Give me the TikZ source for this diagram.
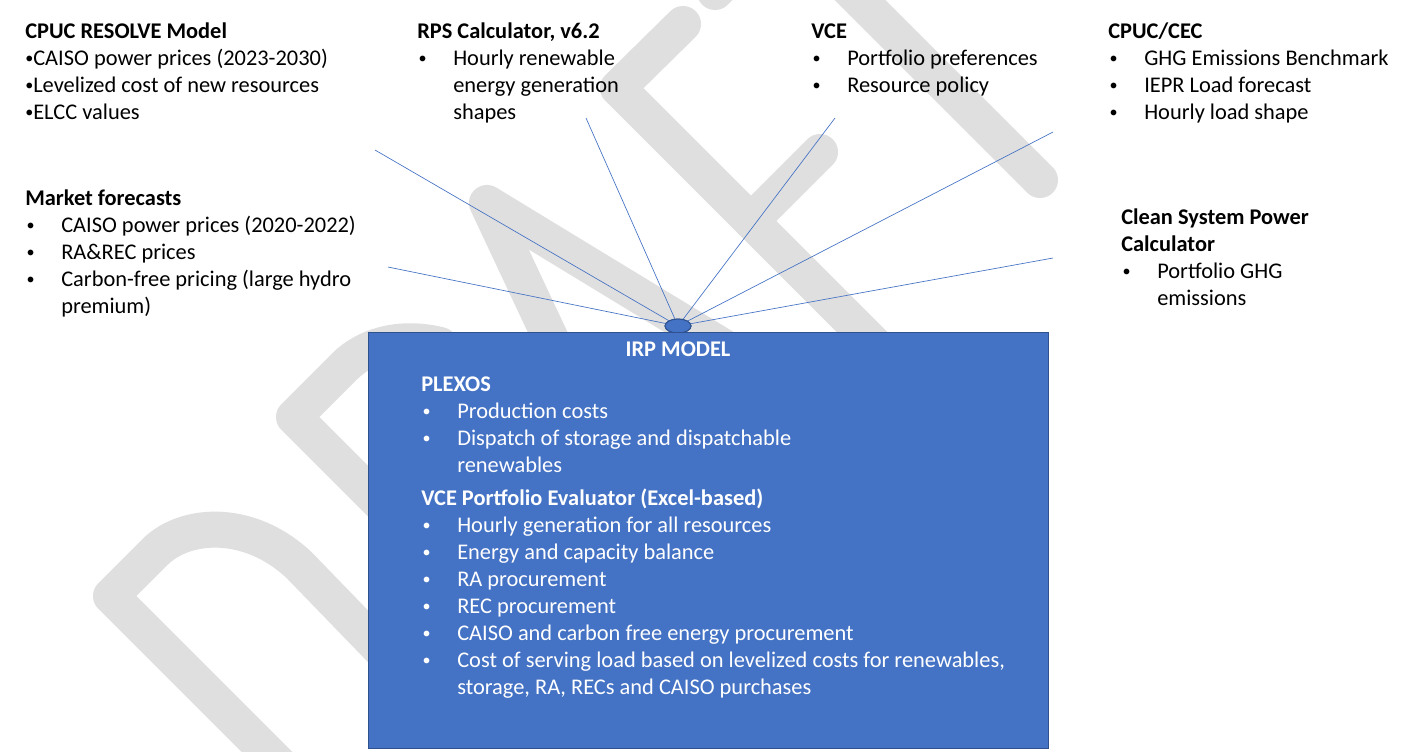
\documentclass[tikz,border=0pt]{standalone}
\usepackage{fontspec}
\setmainfont{Carlito}
\usetikzlibrary{shapes.geometric}
\definecolor{boxblue}{HTML}{4472C4}
\definecolor{boxedge}{HTML}{2F528F}
\definecolor{wm}{RGB}{223,223,223}
\newcommand{\irpfont}{\fontsize{16.8pt}{20.25pt}\selectfont}
\newcommand{\irpdot}{\raisebox{1.2pt}{\scalebox{0.72}{•}}}
\newcommand{\irpbul}{\makebox[27pt][l]{\hspace{1pt}\irpdot}}
\newcommand{\irpind}{\makebox[27pt]{}}
\newcommand{\irpstrut}{\rule{0pt}{15pt}}
\begin{document}
\begin{tikzpicture}[x=0.75pt,y=-0.75pt,
  wmstroke/.style={draw=wm, line width=27pt, line cap=round, line join=round},
  conn/.style={draw=boxblue, line width=0.5pt},
  txt/.style={anchor=north west, inner sep=0pt, align=left, font=\irpfont, text=black},
  intxt/.style={txt, text=white},
  hubst/.style={ellipse, draw=boxedge, fill=boxblue, line width=0.75pt, inner sep=0pt, minimum width=19.5pt, minimum height=10.5pt},
  boxst/.style={rectangle, draw=boxedge, fill=boxblue, line width=0.75pt, inner sep=0pt, anchor=north west}]
\useasboundingbox (0,0) rectangle (1405,751);
\clip (0,0) rectangle (1405,751);
\fill[white] (0,0) rectangle (1405,751);
% watermark
\draw[wmstroke] (310,795) -- (111,596) -- (155,552) .. controls (185,522) and (250,518) .. (300,566) -- (420,690);
\draw[wmstroke] (430,553) -- (294,417) -- (345,366) .. controls (365,346) and (400,335) .. (440,345);
\draw[wmstroke] (595,433) -- (487,203) -- (865,433);
\draw[wmstroke] (683,24) -- (618,88) -- (980,450);
\draw[wmstroke] (751,221) -- (820,152);
\draw[wmstroke] (800,-60) -- (1040,180);
\draw[wmstroke] (715,-8) -- (900,-193);
% hub and connectors
\node[hubst] (hub) at (678,326) {};
\coordinate (e1) at (375,150);
\coordinate (e2) at (586,118);
\coordinate (e3) at (835,118);
\coordinate (e4) at (1053,132);
\coordinate (e5) at (388,267);
\coordinate (e6) at (1053,258);
\foreach \e in {e1,e2,e3,e4,e5,e6} \draw[conn] (\e) -- (hub);
\node[hubst] (hubtop) at (678,326) {};
% main box
\node[boxst, minimum width=510pt, minimum height=312pt] (irp) at (368,332) {};
\node[font=\irpfont\bfseries, text=white, anchor=base, inner sep=0pt] (irptitle) at (678,356) {IRP MODEL};
\node[intxt] (irpbody) at (421,371) {\irpstrut\textbf{PLEXOS}\\
\irpbul Production costs\\
\irpbul Dispatch of storage and dispatchable\\
\irpind renewables\\[4.5pt]
\textbf{VCE Portfolio Evaluator (Excel-based)}\\
\irpbul Hourly generation for all resources\\
\irpbul Energy and capacity balance\\
\irpbul RA procurement\\
\irpbul REC procurement\\
\irpbul CAISO and carbon free energy procurement\\
\irpbul Cost of serving load based on levelized costs for renewables,\\
\irpind storage, RA, RECs and CAISO purchases};
% input groups
\node[txt] (resolve) at (25,18) {\irpstrut\textbf{CPUC RESOLVE Model}\\
\irpdot CAISO power prices (2023-2030)\\
\irpdot Levelized cost of new resources\\
\irpdot ELCC values};
\node[txt] (rps) at (417,18) {\irpstrut\textbf{RPS Calculator, v6.2}\\
\irpbul Hourly renewable\\
\irpind energy generation\\
\irpind shapes};
\node[txt] (vce) at (811,18) {\irpstrut\textbf{VCE}\\
\irpbul Portfolio preferences\\
\irpbul Resource policy};
\node[txt] (cpuc) at (1108,18) {\irpstrut\textbf{CPUC/CEC}\\
\irpbul GHG Emissions Benchmark\\
\irpbul IEPR Load forecast\\
\irpbul Hourly load shape};
\node[txt] (market) at (25,185) {\irpstrut\textbf{Market forecasts}\\
\irpbul CAISO power prices (2020-2022)\\
\irpbul RA\&REC prices\\
\irpbul Carbon-free pricing (large hydro\\
\irpind premium)};
\node[txt] (csp) at (1121,204) {\irpstrut\textbf{Clean System Power}\\
\textbf{Calculator}\\
\irpbul Portfolio GHG\\
\irpind emissions};
\end{tikzpicture}
\end{document}
